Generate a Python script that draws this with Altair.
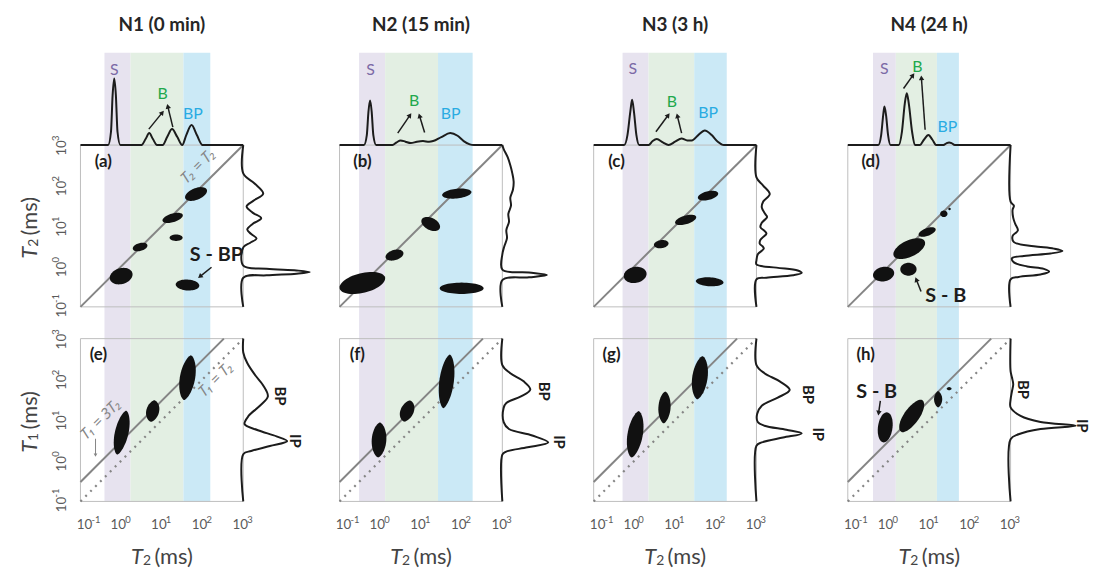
import math
import altair as alt
import numpy as np
import pandas as pd

# ---------------- values ----------------
sample_titles = ["N1 (0 min)", "N2 (15 min)", "N3 (3 h)", "N4 (24 h)"]
tags_t2t2 = ["(a)", "(b)", "(c)", "(d)"]
tags_t1t2 = ["(e)", "(f)", "(g)", "(h)"]
region_names = ["S", "B", "BP"]

# shaded T2 regions S | B | BP, edges as log10(T2 / ms)
region_edges = [
    [-0.41, 0.23, 1.53, 2.19],
    [-0.52, 0.12, 1.42, 2.27],
    [-0.29, 0.35, 1.47, 2.27],
    [-0.38, 0.18, 1.19, 1.73],
]

# projected T2 distribution above (a)-(d): (log10 T2, amplitude)
t2_top = [
    [(-1, 0), (-0.32, 0), (-0.25, 0.2), (-0.21, 0.75), (-0.17, 1.0), (-0.13, 0.75), (-0.09, 0.2),
     (-0.02, 0), (0.5, 0), (0.6, 0.09), (0.69, 0.18), (0.78, 0.09), (0.88, 0), (1.02, 0),
     (1.13, 0.12), (1.25, 0.24), (1.38, 0.12), (1.5, 0.0), (1.6, 0.15), (1.73, 0.3), (1.86, 0.15),
     (2.0, 0), (3, 0)],
    [(-1, 0), (-0.4, 0), (-0.33, 0.15), (-0.29, 0.5), (-0.25, 0.67), (-0.21, 0.5), (-0.17, 0.15),
     (-0.1, 0), (0.3, 0), (0.4, 0.04), (0.5, 0.07), (0.62, 0.05), (0.75, 0.03), (0.9, 0.05),
     (1.05, 0.06), (1.2, 0.05), (1.3, 0.06), (1.5, 0.12), (1.72, 0.18), (1.9, 0.14), (2.05, 0.06),
     (2.2, 0.01), (2.3, 0), (3, 0)],
    [(-1, 0), (-0.25, 0), (-0.17, 0.15), (-0.1, 0.5), (-0.056, 0.68), (-0.01, 0.5), (0.05, 0.15),
     (0.12, 0), (0.35, 0), (0.45, 0.06), (0.55, 0.09), (0.7, 0.04), (0.84, 0.0), (1.0, 0.05),
     (1.16, 0.1), (1.3, 0.07), (1.41, 0.07), (1.57, 0.15), (1.73, 0.22), (1.9, 0.15), (2.05, 0.05),
     (2.2, 0), (3, 0)],
    [(-1, 0), (-0.25, 0), (-0.18, 0.15), (-0.13, 0.45), (-0.1, 0.58), (-0.06, 0.45), (-0.01, 0.15),
     (0.05, 0), (0.25, 0), (0.33, 0.2), (0.4, 0.62), (0.45, 0.78), (0.5, 0.62), (0.58, 0.2),
     (0.65, 0), (0.77, 0), (0.87, 0.08), (0.98, 0.15), (1.08, 0.08), (1.17, 0), (1.35, 0),
     (1.43, 0.03), (1.49, 0.04), (1.55, 0.03), (1.63, 0), (3, 0)],
]

# projected T2 distribution right of (a)-(d): (log10 T2, amplitude)
t2_side = [
    [(3, 0), (2.3, 0), (2.05, 0.17), (1.8, 0.3), (1.62, 0.15), (1.48, 0.05), (1.33, 0.14),
     (1.19, 0.27), (1.05, 0.14), (0.91, 0.06), (0.8, 0.12), (0.69, 0.2), (0.58, 0.1), (0.47, 0),
     (0.02, 0), (-0.06, 0.35), (-0.1, 0.8), (-0.14, 1.0), (-0.18, 0.8), (-0.22, 0.35), (-0.28, 0),
     (-1, 0)],
    [(3, 0), (2.9, 0.02), (2.7, 0.08), (2.5, 0.12), (2.3, 0.15), (2.1, 0.17), (1.9, 0.16),
     (1.7, 0.12), (1.5, 0.13), (1.3, 0.09), (1.1, 0.1), (0.9, 0.06), (0.7, 0.07), (0.5, 0.03),
     (0.3, 0.0), (-0.08, 0), (-0.15, 0.4), (-0.21, 0.67), (-0.27, 0.4), (-0.34, 0), (-1, 0)],
    [(3, 0), (2.2, 0), (2.0, 0.1), (1.79, 0.2), (1.6, 0.1), (1.46, 0.08), (1.3, 0.13), (1.22, 0.16),
     (1.08, 0.08), (0.97, 0.06), (0.88, 0.12), (0.81, 0.15), (0.66, 0.06), (0.56, 0.05),
     (0.5, 0.09), (0.44, 0.11), (0.3, 0.02), (0.15, 0), (0.05, 0), (-0.03, 0.3), (-0.1, 0.62),
     (-0.16, 0.68), (-0.22, 0.55), (-0.28, 0.15), (-0.32, 0), (-1, 0)],
    [(3, 0), (1.6, 0), (1.5, 0.05), (1.4, 0.03), (1.2, 0.04), (1.05, 0.07), (0.89, 0.11),
     (0.75, 0.03), (0.6, 0.05), (0.5, 0.35), (0.44, 0.65), (0.38, 0.78), (0.32, 0.6), (0.26, 0.2),
     (0.2, 0.02), (0.1, 0.05), (0.0, 0.25), (-0.06, 0.5), (-0.13, 0.58), (-0.2, 0.45),
     (-0.26, 0.12), (-0.32, 0), (-1, 0)],
]

# projected T1 distribution right of (e)-(h): (log10 T1, amplitude)
t1_side = [
    [(3, 0), (2.66, 0), (2.4, 0.06), (2.1, 0.18), (1.85, 0.3), (1.58, 0.37), (1.35, 0.25),
     (1.1, 0.08), (0.9, 0.02), (0.75, 0.22), (0.6, 0.5), (0.48, 0.66), (0.36, 0.4), (0.24, 0.12),
     (0.16, 0), (-1, 0)],
    [(3, 0), (2.35, 0), (2.15, 0.12), (1.95, 0.32), (1.75, 0.42), (1.58, 0.28), (1.42, 0.06),
     (1.3, 0.02), (0.95, 0.02), (0.78, 0.1), (0.62, 0.45), (0.45, 0.69), (0.33, 0.38),
     (0.22, 0.05), (0.15, 0), (-1, 0)],
    [(3, 0), (2.35, 0), (2.15, 0.12), (1.95, 0.35), (1.74, 0.5), (1.55, 0.32), (1.35, 0.08),
     (1.15, 0.01), (0.95, 0.02), (0.86, 0.12), (0.76, 0.45), (0.67, 0.68), (0.57, 0.4),
     (0.45, 0.08), (0.37, 0), (-1, 0)],
    [(3, 0), (2.2, 0), (2.05, 0.02), (1.88, 0.04), (1.7, 0.02), (1.5, 0), (1.31, 0.0),
     (1.1, 0.15), (0.95, 0.45), (0.86, 0.98), (0.78, 0.45), (0.65, 0.12), (0.53, 0), (-1, 0)],
]

# T2-T2 peaks: (log10 T2 x, log10 T2 y, half width, half height [decades], tilt)
t2t2_peaks = [
    [(0.0, -0.24, 0.28, 0.2, 0.15), (0.465, 0.48, 0.18, 0.1, 0.2), (1.265, 1.2, 0.25, 0.11, 0.25),
     (1.35, 0.71, 0.16, 0.08, 0.0), (1.84, 1.79, 0.27, 0.15, 0.3), (1.63, -0.46, 0.29, 0.135, -0.05)],
    [(-0.44, -0.41, 0.56, 0.25, 0.2), (0.35, 0.28, 0.22, 0.13, 0.2), (1.24, 1.05, 0.23, 0.16, -0.3),
     (1.88, 1.8, 0.36, 0.12, 0.1), (2.0, -0.54, 0.54, 0.14, 0.0)],
    [(0.02, -0.21, 0.28, 0.2, 0.1), (0.66, 0.55, 0.18, 0.1, 0.1), (1.26, 1.15, 0.26, 0.11, 0.25),
     (1.81, 1.75, 0.25, 0.11, 0.2), (1.85, -0.38, 0.34, 0.11, -0.05)],
    [(-0.12, -0.19, 0.26, 0.18, 0.1), (0.49, -0.07, 0.2, 0.16, 0.0), (0.51, 0.44, 0.39, 0.22, 0.35),
     (0.95, 0.85, 0.21, 0.1, 0.3), (1.36, 1.3, 0.09, 0.08, 0.0), (1.5, 1.42, 0.03, 0.03, 0.0)],
]

# T1-T2 peaks: (log10 T2, log10 T1, half width, half height, shear, roundness)
t1t2_peaks = [
    [(0.013, 0.69, 0.17, 0.54, 0.2, 0.65), (0.775, 1.22, 0.16, 0.265, 0.15, 0.65),
     (1.63, 2.04, 0.19, 0.55, 0.15, 0.65)],
    [(-0.03, 0.51, 0.18, 0.43, 0.05, 0.65), (0.66, 1.22, 0.17, 0.26, 0.25, 0.65),
     (1.63, 1.95, 0.18, 0.66, 0.12, 0.65)],
    [(0.02, 0.65, 0.19, 0.57, 0.15, 0.65), (0.74, 1.31, 0.15, 0.39, 0.05, 0.65),
     (1.61, 2.04, 0.19, 0.53, 0.12, 0.65)],
    [(-0.08, 0.82, 0.18, 0.37, 0.1, 0.5), (0.57, 1.1, 0.22, 0.4, 0.55, 0.55),
     (1.22, 1.51, 0.1, 0.2, 0.0, 0.7), (1.49, 1.77, 0.06, 0.04, 0.0, 0.7)],
]

# region labels above the top distribution: (log10 T2, amplitude) for S, B, BP
region_label_pos = [
    [(-0.17, 1.13), (1.02, 0.76), (1.76, 0.46)],
    [(-0.24, 1.13), (0.83, 0.66), (1.73, 0.46)],
    [(-0.04, 1.15), (0.92, 0.64), (1.81, 0.48)],
    [(-0.1, 1.15), (0.71, 1.18), (1.45, 0.27)],
]
# arrows pointing to the B peaks: (log10 T2 from, amp from, log10 T2 to, amp to)
b_arrows = [
    [(0.68, 0.24, 1.0, 0.48), (1.27, 0.27, 1.15, 0.57)],
    [(0.43, 0.18, 0.72, 0.44), (1.09, 0.19, 0.97, 0.43)],
    [(0.53, 0.2, 0.82, 0.44), (1.16, 0.18, 1.06, 0.43)],
    [(0.37, 0.85, 0.59, 1.04), (0.9, 0.23, 0.81, 1.0)],
]
# labels beside the T1 distributions: (amplitude, log10 T1) for BP and IP
side_label_pos = [
    [(0.55, 1.59), (0.78, 0.49)],
    [(0.62, 1.71), (0.85, 0.46)],
    [(0.77, 1.63), (0.92, 0.65)],
    [(0.18, 1.75), (1.07, 0.86)],
]
# coupled-peak notes: (column, row, text, log x, log y, arrow from x, y, to x, y)
peak_notes = [
    (0, 1, "S - BP", 2.34, 0.28, 2.22, -0.02, 1.95, -0.24),
    (3, 1, "S - B", 1.41, -0.73, 0.8, -0.62, 0.69, -0.34),
    (3, 2, "S - B", -0.29, 1.69, -0.2, 1.47, -0.24, 1.19),
]
decades = [0.1, 1, 10, 100, 1000]
exponents = ["-1", "0", "1", "2", "3"]

# ---------------- layout / style ----------------
FONT = "Lato"
OFF = 8
PX = [81, 342, 598, 854]
PW = 164
ROWS = {1: (144, 307), 2: (339, 503)}
BAND_T, BAND_B = 51, 503
AMP = 67
W, H = 1089, 562
band_fill = ["#e7e3ef", "#e3efe3", "#cbe9f6"]
label_col = ["#7b6aa6", "#21a84c", "#29abe2"]
INK = "#1c1c1c"
GRAY = "#858585"
TICK = "#5a5a5a"


def sx(c):
    return alt.Scale(type="log", domain=[0.1, 1000], range=[PX[c] - OFF, PX[c] + PW - OFF], nice=False)


def sy(row):
    t, b = ROWS[row]
    return alt.Scale(type="log", domain=[0.1, 1000], range=[b - OFF, t - OFF], nice=False)


def s_top():
    t = ROWS[1][0] - OFF
    return alt.Scale(domain=[0, 1], range=[t, t - AMP], nice=False, zero=False)


def s_side(c):
    x0 = PX[c] + PW - OFF
    return alt.Scale(domain=[0, 1], range=[x0, x0 + AMP], nice=False, zero=False)


def px_dec_y(row):
    t, b = ROWS[row]
    return (b - t) / 4.0


def head_angle(dx, dy):
    return math.degrees(math.atan2(dx, -dy)) % 360


def ptext(s, px, py, **kw):
    return alt.Chart(pd.DataFrame({"t": [s]})).mark_text(font=FONT, **kw).encode(
        x=alt.value(px - OFF), y=alt.value(py - OFF), text="t:N")


L = []

# shaded regions
for c in range(4):
    e = region_edges[c]
    df = pd.DataFrame({"region": region_names, "lo": [10 ** v for v in e[:3]],
                       "hi": [10 ** v for v in e[1:]]})
    L.append(alt.Chart(df).mark_rect().encode(
        x=alt.X("lo:Q", scale=sx(c), axis=None), x2="hi:Q",
        y=alt.value(BAND_T - OFF), y2=alt.value(BAND_B - OFF),
        color=alt.Color("region:N", scale=alt.Scale(domain=region_names, range=band_fill), legend=None)))

# panel frames and reference lines
frame_df = pd.DataFrame({"x0": [0.1], "x1": [1000.0], "y0": [0.1], "y1": [1000.0]})
diag_df = pd.DataFrame({"x": [0.1, 1000.0], "y": [0.1, 1000.0]})
three_df = pd.DataFrame({"x": [0.1, 1000.0 / 3], "y": [0.3, 1000.0]})
for c in range(4):
    for row in (1, 2):
        L.append(alt.Chart(frame_df).mark_rect(fillOpacity=0, stroke="#bdbdbd", strokeWidth=1).encode(
            x=alt.X("x0:Q", scale=sx(c), axis=None), x2="x1:Q",
            y=alt.Y("y0:Q", scale=sy(row), axis=None), y2="y1:Q"))
    L.append(alt.Chart(diag_df).mark_line(color=GRAY, strokeWidth=2).encode(
        x=alt.X("x:Q", scale=sx(c), axis=None), y=alt.Y("y:Q", scale=sy(1), axis=None)))
    L.append(alt.Chart(three_df).mark_line(color=GRAY, strokeWidth=2).encode(
        x=alt.X("x:Q", scale=sx(c), axis=None), y=alt.Y("y:Q", scale=sy(2), axis=None)))
    L.append(alt.Chart(diag_df).mark_line(color=GRAY, strokeWidth=2.2, strokeDash=[2, 5]).encode(
        x=alt.X("x:Q", scale=sx(c), axis=None), y=alt.Y("y:Q", scale=sy(2), axis=None)))

# peaks of the 2D maps
tt = np.linspace(0, np.pi, 29)
for c in range(4):
    rows = []
    for k, (cx, cy, a, b, s) in enumerate(t2t2_peaks[c]):
        u = -a * np.cos(tt)
        h = b * np.sin(tt)
        yc = cy + s * u
        for ui, hi, yi in zip(u, h, yc):
            rows.append({"id": k, "x": 10 ** (cx + ui), "ylo": 10 ** (yi - hi), "yhi": 10 ** (yi + hi)})
    L.append(alt.Chart(pd.DataFrame(rows)).mark_area(color="#111111").encode(
        x=alt.X("x:Q", scale=sx(c), axis=None),
        y=alt.Y("ylo:Q", scale=sy(1), axis=None, stack=None), y2="yhi:Q",
        detail="id:N"))
    rows = []
    for k, (cx, cy, a, b, s, q) in enumerate(t1t2_peaks[c]):
        v = -b * np.cos(tt)
        w = a * np.sin(tt) ** (2 * q)
        xc = cx + s * v
        for vi, wi, xi in zip(v, w, xc):
            rows.append({"id": k, "y": 10 ** (cy + vi), "xlo": 10 ** (xi - wi), "xhi": 10 ** (xi + wi)})
    L.append(alt.Chart(pd.DataFrame(rows)).mark_area(color="#111111", orient="horizontal").encode(
        y=alt.Y("y:Q", scale=sy(2), axis=None),
        x=alt.X("xlo:Q", scale=sx(c), axis=None, stack=None), x2="xhi:Q",
        detail="id:N"))

# projected distributions
for c in range(4):
    df = pd.DataFrame({"x": [10 ** p[0] for p in t2_top[c]], "amp": [p[1] for p in t2_top[c]]})
    L.append(alt.Chart(df).mark_line(color=INK, strokeWidth=2, interpolate="monotone").encode(
        x=alt.X("x:Q", scale=sx(c), axis=None), y=alt.Y("amp:Q", scale=s_top(), axis=None)))
    for row, dist in ((1, t2_side[c]), (2, t1_side[c])):
        df = pd.DataFrame({"i": list(range(len(dist))), "y": [10 ** p[0] for p in dist],
                           "amp": [p[1] for p in dist]})
        L.append(alt.Chart(df).mark_line(color=INK, strokeWidth=2, interpolate="catmull-rom").encode(
            x=alt.X("amp:Q", scale=s_side(c), axis=None), y=alt.Y("y:Q", scale=sy(row), axis=None),
            order="i:Q"))

# region labels and arrows above the maps
for c in range(4):
    df = pd.DataFrame({"t": region_names, "x": [10 ** p[0] for p in region_label_pos[c]],
                       "amp": [p[1] for p in region_label_pos[c]]})
    L.append(alt.Chart(df).mark_text(font=FONT, fontSize=16, baseline="middle").encode(
        x=alt.X("x:Q", scale=sx(c), axis=None), y=alt.Y("amp:Q", scale=s_top(), axis=None),
        text="t:N",
        color=alt.Color("t:N", scale=alt.Scale(domain=region_names, range=label_col), legend=None)))
    ar = b_arrows[c]
    df = pd.DataFrame({"x0": [10 ** a[0] for a in ar], "a0": [a[1] for a in ar],
                       "x1": [10 ** a[2] for a in ar], "a1": [a[3] for a in ar],
                       "ang": [head_angle((a[2] - a[0]) * PW / 4, -(a[3] - a[1]) * AMP) for a in ar]})
    L.append(alt.Chart(df).mark_rule(color=INK, strokeWidth=1.5).encode(
        x=alt.X("x0:Q", scale=sx(c), axis=None), x2="x1:Q",
        y=alt.Y("a0:Q", scale=s_top(), axis=None), y2="a1:Q"))
    L.append(alt.Chart(df).mark_point(shape="triangle", filled=True, size=30, color=INK, opacity=1).encode(
        x=alt.X("x1:Q", scale=sx(c), axis=None), y=alt.Y("a1:Q", scale=s_top(), axis=None),
        angle=alt.Angle("ang:Q", scale=None)))
    # BP / IP beside the T1 distribution
    df = pd.DataFrame({"t": ["BP", "IP"], "amp": [p[0] for p in side_label_pos[c]],
                       "y": [10 ** p[1] for p in side_label_pos[c]]})
    L.append(alt.Chart(df).mark_text(font=FONT, fontSize=15, fontWeight="bold", angle=90,
                                     baseline="middle", color=INK).encode(
        x=alt.X("amp:Q", scale=s_side(c), axis=None), y=alt.Y("y:Q", scale=sy(2), axis=None), text="t:N"))
    # panel tags
    for row, tag, dx in ((1, tags_t2t2[c], 23), (2, tags_t1t2[c], 18)):
        df = pd.DataFrame({"t": [tag], "x": [10 ** (dx / (PW / 4) - 1)], "y": [10 ** (3 - 17 / px_dec_y(row))]})
        L.append(alt.Chart(df).mark_text(font=FONT, fontSize=17, fontWeight="bold", color=INK,
                                         baseline="middle").encode(
            x=alt.X("x:Q", scale=sx(c), axis=None), y=alt.Y("y:Q", scale=sy(row), axis=None), text="t:N"))

# coupled-peak notes with arrows
for (c, row, s, lx, ly, ax0, ay0, ax1, ay1) in peak_notes:
    df = pd.DataFrame({"t": [s], "x": [10 ** lx], "y": [10 ** ly], "x0": [10 ** ax0], "y0": [10 ** ay0],
                       "x1": [10 ** ax1], "y1": [10 ** ay1],
                       "ang": [head_angle((ax1 - ax0) * PW / 4, -(ay1 - ay0) * px_dec_y(row))]})
    L.append(alt.Chart(df).mark_text(font=FONT, fontSize=20, fontWeight="bold", color=INK,
                                     baseline="middle").encode(
        x=alt.X("x:Q", scale=sx(c), axis=None), y=alt.Y("y:Q", scale=sy(row), axis=None), text="t:N"))
    L.append(alt.Chart(df).mark_rule(color=INK, strokeWidth=1.5).encode(
        x=alt.X("x0:Q", scale=sx(c), axis=None), x2="x1:Q",
        y=alt.Y("y0:Q", scale=sy(row), axis=None), y2="y1:Q"))
    L.append(alt.Chart(df).mark_point(shape="triangle", filled=True, size=30, color=INK, opacity=1).encode(
        x=alt.X("x1:Q", scale=sx(c), axis=None), y=alt.Y("y1:Q", scale=sy(row), axis=None),
        angle=alt.Angle("ang:Q", scale=None)))

# reference-line labels (first column)
ref_labels = [(1, "T\u2082 = T\u2082", 1.88, 2.48), (2, "T\u2081 = 3T\u2082", -0.51, 1.02),
              (2, "T\u2081 = T\u2082", 2.32, 2.0)]
for row, s, lx, ly in ref_labels:
    df = pd.DataFrame({"t": [s], "x": [10 ** lx], "y": [10 ** ly]})
    L.append(alt.Chart(df).mark_text(font="Noto Sans", fontSize=15, fontStyle="italic", color=GRAY,
                                     angle=315, baseline="middle").encode(
        x=alt.X("x:Q", scale=sx(0), axis=None), y=alt.Y("y:Q", scale=sy(row), axis=None), text="t:N"))
small_arrow = pd.DataFrame({"x": [10 ** -0.63], "y0": [10 ** 0.54], "y1": [10 ** 0.14]})
L.append(alt.Chart(small_arrow).mark_rule(color=GRAY, strokeWidth=1).encode(
    x=alt.X("x:Q", scale=sx(0), axis=None), y=alt.Y("y0:Q", scale=sy(2), axis=None), y2="y1:Q"))
L.append(alt.Chart(small_arrow).mark_point(shape="triangle-down", filled=True, size=14, color=GRAY,
                                           opacity=1).encode(
    x=alt.X("x:Q", scale=sx(0), axis=None), y=alt.Y("y1:Q", scale=sy(2), axis=None)))

# tick labels
tick_df = pd.DataFrame({"v": decades, "e": exponents, "b": ["10"] * 5})
for c in range(4):
    for sub, shift in ((tick_df.iloc[:1], 7), (tick_df.iloc[1:], 0)):
        L.append(alt.Chart(sub).mark_text(font=FONT, fontSize=13.5, color=TICK, align="center",
                                          baseline="middle", dx=-3 + shift).encode(
            x=alt.X("v:Q", scale=sx(c), axis=None), y=alt.value(527 - OFF), text="b:N"))
        L.append(alt.Chart(sub).mark_text(font=FONT, fontSize=9.5, color=TICK, align="left",
                                          baseline="middle", dx=4 + shift, dy=-5.5).encode(
            x=alt.X("v:Q", scale=sx(c), axis=None), y=alt.value(527 - OFF), text="e:N"))
for row in (1, 2):
    L.append(alt.Chart(tick_df).mark_text(font=FONT, fontSize=13.5, color=TICK, align="center",
                                          baseline="middle", angle=270, dx=-3).encode(
        y=alt.Y("v:Q", scale=sy(row), axis=None), x=alt.value(62 - OFF), text="b:N"))
    L.append(alt.Chart(tick_df).mark_text(font=FONT, fontSize=9.5, color=TICK, align="left",
                                          baseline="middle", angle=270, dx=4, dy=-5.5).encode(
        y=alt.Y("v:Q", scale=sy(row), axis=None), x=alt.value(62 - OFF), text="e:N"))

# axis titles
for c in range(4):
    cx = PX[c] + PW / 2
    L.append(ptext("T", cx - 31, 559, fontSize=22, fontStyle="italic", color="#444444", align="left"))
    L.append(ptext("2", cx - 19, 563, fontSize=14, color="#444444", align="left"))
    L.append(ptext("(ms)", cx - 7.5, 559, fontSize=22, color="#444444", align="left"))
for row, sub in ((1, "2"), (2, "1")):
    t, b = ROWS[row]
    cy = (t + b) / 2
    L.append(ptext("T", 30, cy + 33, fontSize=22, fontStyle="italic", color="#444444", align="left",
                   angle=270))
    L.append(ptext(sub, 34, cy + 21, fontSize=14, color="#444444", align="left", angle=270))
    L.append(ptext("(ms)", 30, cy + 9.5, fontSize=22, color="#444444", align="left", angle=270))

# column titles
for c in range(4):
    L.append(ptext(sample_titles[c], PX[c] + PW / 2, 23, fontSize=19, fontWeight="bold", color="#262626",
                   align="center", baseline="middle"))

chart = alt.layer(*L).properties(
    width=W, height=H, padding=0, background="white",
    autosize=alt.AutoSizeParams(type="none"),
).resolve_scale(x="independent", y="independent", color="independent").configure_view(stroke=None)

chart.save("out.html", embed_options={"renderer": "svg", "actions": False})
